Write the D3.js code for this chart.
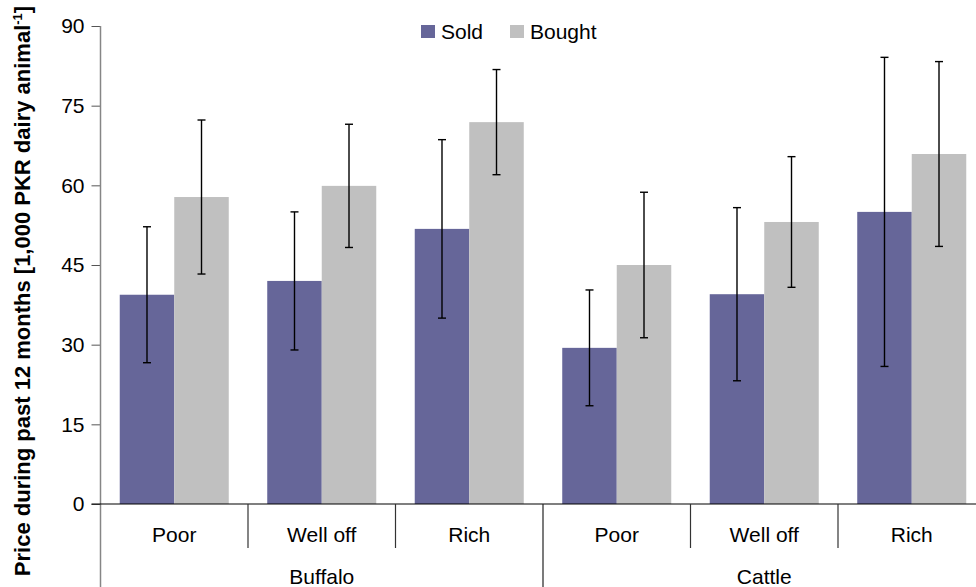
<!DOCTYPE html>
<html>
<head>
<meta charset="utf-8">
<script src="https://cdn.jsdelivr.net/npm/d3@7"></script>
<style>
  body { margin: 0; background: #fff; }
  svg { display: block; font-family: "Liberation Sans", Arial, sans-serif; }
</style>
</head>
<body>
<svg id="chart" width="976" height="587"></svg>
<script>
// Animal groups and wealth classes along the x axis
const species = ["Buffalo", "Cattle"];
const wealth = ["Poor", "Well off", "Rich"];
const series = ["Sold", "Bought"];

// Mean price (1,000 PKR per dairy animal) and standard deviation,
// ordered Buffalo Poor/Well off/Rich, then Cattle Poor/Well off/Rich
const soldMean   = [39.4, 42.0, 51.8, 29.4, 39.5, 55.0];
const soldSD     = [12.8, 13.0, 16.8, 10.9, 16.3, 29.1];
const boughtMean = [57.8, 59.9, 71.9, 45.0, 53.1, 65.9];
const boughtSD   = [14.5, 11.6,  9.9, 13.7, 12.3, 17.4];

const yTicks = [0, 15, 30, 45, 60, 75, 90];

const colors = { Sold: "#666699", Bought: "#C0C0C0" };

const keys = [];
species.forEach(s => wealth.forEach(w => keys.push(s + "|" + w)));

const rows = keys.map((k, i) => ({
  key: k,
  species: k.split("|")[0],
  wealth: k.split("|")[1],
  values: [
    { series: "Sold", mean: soldMean[i], sd: soldSD[i] },
    { series: "Bought", mean: boughtMean[i], sd: boughtSD[i] }
  ]
}));

const svg = d3.select("#chart");

const plotLeft = 100.5, plotRight = 985.5, plotTop = 26, plotBase = 504, plotBottom = 587;

const x0 = d3.scaleBand().domain(keys).range([plotLeft, plotRight]).paddingInner(0).paddingOuter(0);
const x1 = d3.scaleBand().domain(series).range([0, x0.bandwidth()]).paddingInner(0).paddingOuter(0.353);
const y = d3.scaleLinear().domain([0, 90]).range([plotBase, plotTop]);

// Y axis
const yAxis = svg.append("g")
  .attr("transform", `translate(${plotLeft},0)`)
  .call(d3.axisLeft(y).tickValues(yTicks).tickSize(9).tickPadding(7).tickSizeOuter(0));
yAxis.select(".domain").remove();
yAxis.selectAll(".tick line").attr("stroke", "#555");
yAxis.selectAll(".tick text")
  .attr("font-size", 21)
  .attr("fill", "#000")
  .attr("font-family", "'Liberation Sans', Arial, sans-serif");

svg.append("line")
  .attr("x1", plotLeft).attr("x2", plotLeft)
  .attr("y1", y(90)).attr("y2", plotBottom)
  .attr("stroke", "#868686").attr("stroke-width", 1.5);

// Bars
const groups = svg.append("g").selectAll("g")
  .data(rows).join("g")
  .attr("transform", d => `translate(${x0(d.key)},0)`);

groups.selectAll("rect")
  .data(d => d.values).join("rect")
  .attr("x", d => x1(d.series))
  .attr("width", x1.bandwidth())
  .attr("y", d => y(d.mean))
  .attr("height", d => y(0) - y(d.mean))
  .attr("fill", d => colors[d.series]);

// Error bars (mean ± SD)
const capHalf = 4;
const eb = groups.selectAll("g.err")
  .data(d => d.values).join("g").attr("class", "err")
  .attr("stroke", "#000").attr("stroke-width", 1.4);
eb.append("line")
  .attr("x1", d => x1(d.series) + x1.bandwidth() / 2)
  .attr("x2", d => x1(d.series) + x1.bandwidth() / 2)
  .attr("y1", d => y(d.mean + d.sd))
  .attr("y2", d => y(d.mean - d.sd));
eb.append("line")
  .attr("x1", d => x1(d.series) + x1.bandwidth() / 2 - capHalf)
  .attr("x2", d => x1(d.series) + x1.bandwidth() / 2 + capHalf)
  .attr("y1", d => y(d.mean + d.sd))
  .attr("y2", d => y(d.mean + d.sd));
eb.append("line")
  .attr("x1", d => x1(d.series) + x1.bandwidth() / 2 - capHalf)
  .attr("x2", d => x1(d.series) + x1.bandwidth() / 2 + capHalf)
  .attr("y1", d => y(d.mean - d.sd))
  .attr("y2", d => y(d.mean - d.sd));

// X axis baseline
svg.append("line")
  .attr("x1", plotLeft - 9).attr("x2", plotRight)
  .attr("y1", y(0)).attr("y2", y(0))
  .attr("stroke", "#000").attr("stroke-width", 1.2);

// Dividers between wealth classes (short) and between species (long)
keys.forEach((k, i) => {
  if (i === 0) return;
  const isGroupEdge = wealth.indexOf(k.split("|")[1]) === 0;
  svg.append("line")
    .attr("x1", x0(k)).attr("x2", x0(k))
    .attr("y1", y(0)).attr("y2", isGroupEdge ? plotBottom : 548)
    .attr("stroke", isGroupEdge ? "#222" : "#333").attr("stroke-width", 1.2);
});
svg.append("line")
  .attr("x1", plotRight).attr("x2", plotRight)
  .attr("y1", y(0)).attr("y2", plotBottom)
  .attr("stroke", "#222").attr("stroke-width", 1.2);

// Wealth labels
svg.append("g").selectAll("text")
  .data(rows).join("text")
  .attr("x", d => x0(d.key) + x0.bandwidth() / 2)
  .attr("y", 542)
  .attr("text-anchor", "middle")
  .attr("font-size", 21)
  .text(d => d.wealth);

// Species labels
svg.append("g").selectAll("text")
  .data(species).join("text")
  .attr("x", s => {
    const first = x0(s + "|" + wealth[0]);
    const last = x0(s + "|" + wealth[wealth.length - 1]) + x0.bandwidth();
    return (first + last) / 2;
  })
  .attr("y", 584)
  .attr("text-anchor", "middle")
  .attr("font-size", 21)
  .text(s => s);

// Legend
const legendPos = [{ sx: 421, tx: 441 }, { sx: 510, tx: 530 }];
const legend = svg.append("g").selectAll("g")
  .data(series).join("g");
legend.append("rect")
  .attr("x", (d, i) => legendPos[i].sx)
  .attr("y", 25).attr("width", 14).attr("height", 13)
  .attr("fill", d => colors[d]);
legend.append("text")
  .attr("x", (d, i) => legendPos[i].tx)
  .attr("y", 39)
  .attr("font-size", 21)
  .text(d => d);

// Y axis title
const title = svg.append("text")
  .attr("transform", "translate(30,291) rotate(-90)")
  .attr("text-anchor", "middle")
  .attr("font-size", 22)
  .attr("font-weight", "bold");
title.append("tspan").text("Price during past 12 months [1,000 PKR dairy animal");
title.append("tspan").attr("font-size", 13).attr("dy", -8).text("-1");
title.append("tspan").attr("dy", 8).text("]");
</script>
</body>
</html>
